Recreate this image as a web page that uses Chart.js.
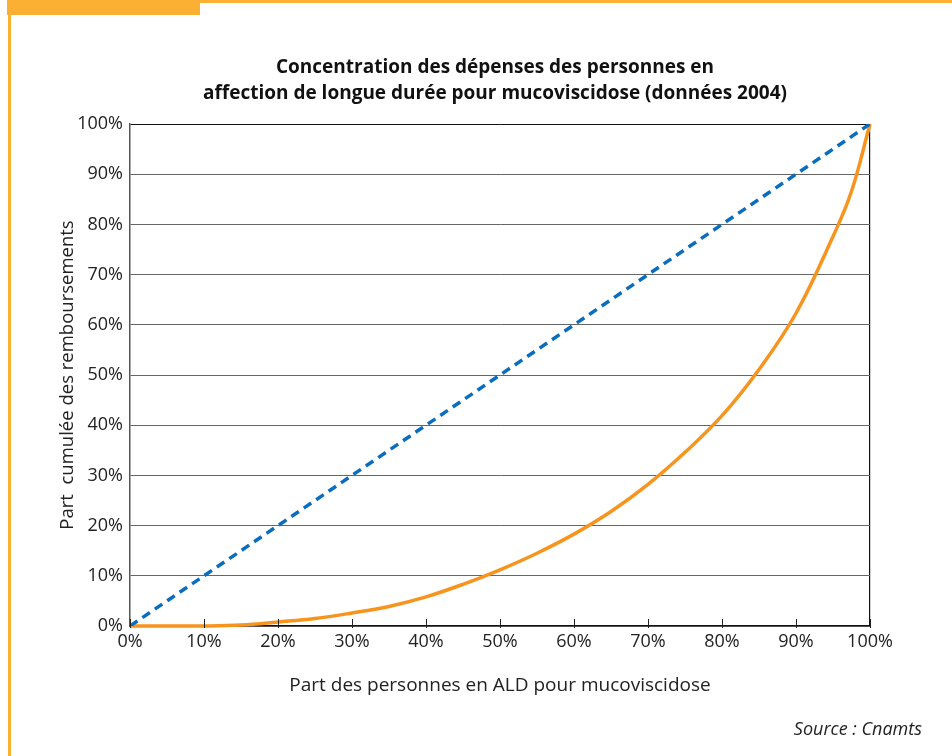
<!DOCTYPE html>
<html><head><meta charset="utf-8">
<script src="https://cdn.jsdelivr.net/npm/chart.js@4.4.1/dist/chart.umd.min.js"></script>
<style>
html,body{margin:0;padding:0;background:#fff;}
#wrap{position:relative;width:952px;height:756px;overflow:hidden;}
#tab{position:absolute;left:7px;top:0;width:193px;height:15px;background:#FBB034;}
#topline{position:absolute;left:200px;top:0;width:752px;height:3px;background:#FBB034;}
#leftline{position:absolute;left:8px;top:14px;width:3px;height:742px;background:#FBB034;}
canvas{position:absolute;left:0;top:0;}
</style></head>
<body><div id="wrap"><div id="tab"></div><div id="topline"></div><div id="leftline"></div>
<canvas id="c" width="952" height="756"></canvas></div>
<script>
const titleLines = ["Concentration des dépenses des personnes en", "affection de longue durée pour mucoviscidose (données 2004)"];
const xAxisTitle = "Part des personnes en ALD pour mucoviscidose";
const yAxisTitle = "Part  cumulée des remboursements";
const sourceText = "Source : Cnamts";
const shareX = [0,5,10,15,20,25,30,35,40,45,50,55,60,65,70,75,80,85,90,95,97.5,100];
const shareY = [0,0,0,0.2,0.8,1.5,2.6,3.9,5.8,8.3,11.2,14.5,18.3,22.8,28.2,34.6,41.9,51.1,62.3,77.6,86.6,100];
const equalX = [0,100];
const equalY = [0,100];
const tickValues = [0,10,20,30,40,50,60,70,80,90,100];

const FONT = "'Open Sans', 'Noto Sans', sans-serif";
const toPts = (xs, ys) => xs.map((x, i) => ({x: x, y: ys[i]}));

const decor = {
  id: 'decor',
  afterDraw(chart) {
    const ctx = chart.ctx, a = chart.chartArea, xs = chart.scales.x;
    ctx.save();
    ctx.strokeStyle = '#222'; ctx.lineWidth = 1;
    tickValues.forEach(v => {
      const px = Math.round(xs.getPixelForValue(v)) + 0.5;
      ctx.beginPath(); ctx.moveTo(px, a.bottom - 7); ctx.lineTo(px, a.bottom + 2); ctx.stroke();
    });
    ctx.fillStyle = '#111';
    ctx.font = "bold 19px " + FONT;
    ctx.textAlign = 'center'; ctx.textBaseline = 'middle';
    const cx = 495;
    ctx.fillText(titleLines[0], cx, 68);
    ctx.fillText(titleLines[1], cx, 94);
    ctx.font = "italic 18px " + FONT;
    ctx.fillStyle = '#222';
    ctx.textAlign = 'right';
    ctx.fillText(sourceText, 922, 730);
    ctx.restore();
  }
};

new Chart(document.getElementById('c'), {
  type: 'line',
  data: {
    datasets: [
      {data: toPts(equalX, equalY), borderColor: '#0A6DBE', borderWidth: 3.5, borderDash: [9, 6], pointRadius: 0, tension: 0},
      {data: toPts(shareX, shareY), borderColor: '#F7941D', borderWidth: 3.5, pointRadius: 0, tension: 0.4, clip: 4}
    ]
  },
  options: {
    responsive: false,
    animation: false,
    layout: {padding: {left: 0, right: 82, top: 124, bottom: 0}},
    plugins: {legend: {display: false}, title: {display: false}, tooltip: {enabled: false}},
    scales: {
      x: {
        type: 'linear', min: 0, max: 100,
        afterFit: s => { s.height = 130; },
        afterBuildTicks: s => { s.ticks = tickValues.map(v => ({value: v})); },
        ticks: {callback: v => v + '%', font: {family: FONT, size: 18}, color: '#222', padding: 5, maxRotation: 0, autoSkip: false},
        grid: {drawTicks: false, color: c => (c.tick && c.tick.value === 100) ? '#111' : 'rgba(0,0,0,0)', lineWidth: 1.2},
        border: {color: '#111', width: 1.2},
        title: {display: true, text: xAxisTitle, font: {family: FONT, size: 19}, color: '#222', padding: {top: 0, bottom: 59}}
      },
      y: {
        min: 0, max: 100,
        afterFit: s => { s.width = 130; },
        afterBuildTicks: s => { s.ticks = tickValues.map(v => ({value: v})); },
        ticks: {callback: v => v + '%', font: {family: FONT, size: 18}, color: '#222', padding: 7},
        grid: {drawTicks: false, color: c => (c.tick && c.tick.value === 100) ? '#111' : '#666', lineWidth: 1},
        border: {color: '#555', width: 1.5},
        title: {display: true, text: yAxisTitle, font: {family: FONT, size: 18.5}, color: '#222', padding: {top: 57, bottom: 0}}
      }
    }
  },
  plugins: [decor]
});
</script></body></html>
